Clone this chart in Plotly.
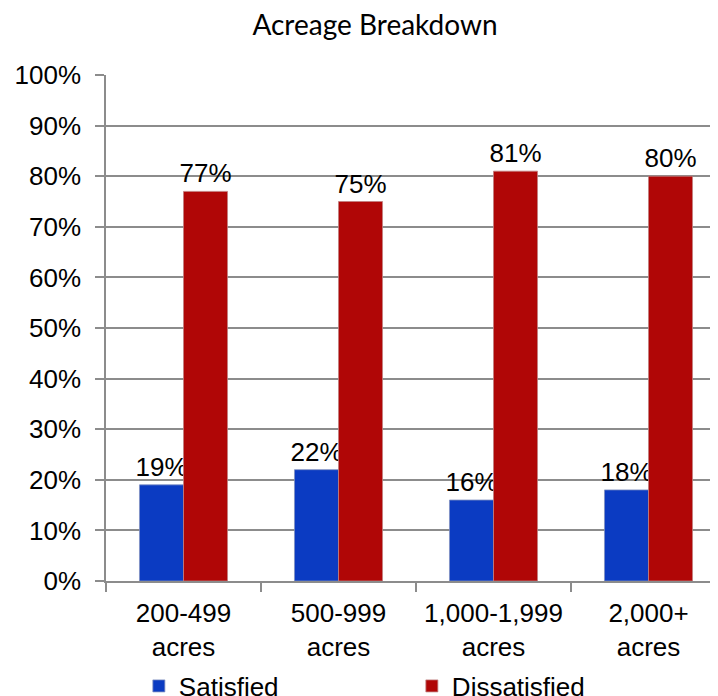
import plotly.graph_objects as go

categories = ["200-499<br>acres", "500-999<br>acres", "1,000-1,999<br>acres", "2,000+<br>acres"]
satisfied = [19, 22, 16, 18]
dissatisfied = [77, 75, 81, 80]
y_ticks = [0, 10, 20, 30, 40, 50, 60, 70, 80, 90, 100]
y_tick_labels = [f"{v}%" for v in y_ticks]

font_main = "Liberation Sans, Arial, sans-serif"

fig = go.Figure()
fig.add_trace(go.Bar(
    name="Satisfied", x=categories, y=satisfied,
    marker=dict(color="#0B3BC2", line=dict(color="#8090c0", width=0.8)),
    text=[f"{v}%" for v in satisfied], textposition="outside",
    constraintext="none",
    textfont=dict(family=font_main, size=26, color="#000000"),
    cliponaxis=False,
))
fig.add_trace(go.Bar(
    name="Dissatisfied", x=categories, y=dissatisfied,
    marker=dict(color="#B00606", line=dict(color="#c08080", width=0.8)),
    text=[f"{v}%" for v in dissatisfied], textposition="outside",
    constraintext="none",
    textfont=dict(family=font_main, size=26, color="#000000"),
    cliponaxis=False,
))

fig.update_layout(
    width=718, height=696,
    margin=dict(l=98, r=0, t=67, b=123, autoexpand=False),
    barmode="group", bargap=0.432, bargroupgap=0,
    plot_bgcolor="white", paper_bgcolor="white",
    font=dict(family=font_main, size=26, color="#000000"),
    title=dict(text="Acreage Breakdown", x=367 / 718, xanchor="center",
               y=1 - 17 / 696, yanchor="middle", yref="container",
               font=dict(family="Lato, Open Sans, sans-serif", size=28, color="#000000")),
    showlegend=True,
    legend=dict(orientation="h", x=0.053, xanchor="left",
                y=-105 / 506, yanchor="middle",
                entrywidth=228, entrywidthmode="pixels",
                font=dict(family=font_main, size=26, color="#000000"),
                bgcolor="rgba(0,0,0,0)"),
)
fig.update_xaxes(
    range=[-0.5, 3.5], showline=True, linecolor="#8c8c8c", linewidth=1.5,
    ticks="outside", tickson="boundaries", ticklen=9, tickcolor="#8c8c8c", tickwidth=1.5,
    ticklabelstandoff=8,
    showgrid=False, automargin=False,
    tickfont=dict(family=font_main, size=26, color="#000000"),
)
fig.update_yaxes(
    range=[0, 100], tickvals=y_ticks, ticktext=y_tick_labels,
    showline=True, linecolor="#8c8c8c", linewidth=1.5,
    ticks="outside", ticklen=9, tickcolor="#8c8c8c", tickwidth=1.5,
    ticklabelstandoff=9,
    showgrid=True, gridcolor="#8c8c8c", gridwidth=1.5, zeroline=False,
    automargin=False,
    tickfont=dict(family=font_main, size=26, color="#000000"),
)

fig.write_html("out.html")
